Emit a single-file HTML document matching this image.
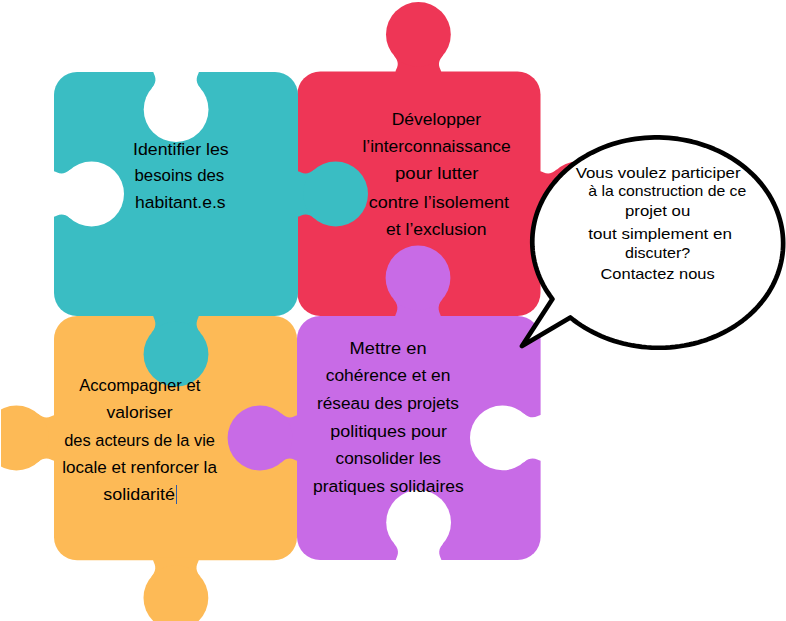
<!DOCTYPE html>
<html><head><meta charset="utf-8"><style>
html,body{margin:0;padding:0;background:#fff;}
svg{display:block;}
text{font-family:"Liberation Sans",sans-serif;fill:#000;}
</style></head><body>
<svg width="786" height="621" viewBox="0 0 786 621">
<rect width="786" height="621" fill="#fff"/>
<rect x="297.3" y="71.5" width="243.20" height="244.50" rx="23" ry="23" fill="#EE3656"/><path d="M395.60 74.50 L395.60 71.50 C396.27 68.47 401.05 63.85 393.91 55.61 L418.40 34.40 L442.89 55.61 C435.75 63.85 440.53 68.47 441.20 71.50 L441.20 74.50 Z" fill="#EE3656"/><circle cx="418.40" cy="34.40" r="32.4" fill="#EE3656"/><path d="M537.50 171.20 L540.50 171.20 C543.53 171.87 548.65 176.65 556.89 169.51 L578.10 194.00 L556.89 218.49 C548.65 211.35 543.53 216.13 540.50 216.80 L537.50 216.80 Z" fill="#EE3656"/><circle cx="578.10" cy="194.00" r="32.4" fill="#EE3656"/><rect x="54" y="316" width="243.00" height="244.30" rx="23" ry="23" fill="#FDBA56"/><path d="M57.00 460.80 L54.00 460.80 C50.97 460.13 45.85 455.35 37.61 462.49 L16.40 438.00 L37.61 413.51 C45.85 420.65 50.97 415.87 54.00 415.20 L57.00 415.20 Z" fill="#FDBA56"/><circle cx="16.40" cy="438.00" r="32.4" fill="#FDBA56"/><path d="M198.70 557.30 L198.70 560.30 C198.03 563.33 193.25 568.45 200.39 576.69 L175.90 597.90 L151.41 576.69 C158.55 568.45 153.77 563.33 153.10 560.30 L153.10 557.30 Z" fill="#FDBA56"/><circle cx="175.90" cy="597.90" r="32.4" fill="#FDBA56"/><rect x="54" y="72" width="244.00" height="244.00" rx="23" ry="23" fill="#3ABDC3"/><path d="M295.00 171.20 L298.00 171.20 C301.03 171.87 306.15 176.65 314.39 169.51 L335.60 194.00 L314.39 218.49 C306.15 211.35 301.03 216.13 298.00 216.80 L295.00 216.80 Z" fill="#3ABDC3"/><circle cx="335.60" cy="194.00" r="32.4" fill="#3ABDC3"/><path d="M198.80 313.00 L198.80 316.00 C198.13 319.03 193.35 324.75 200.49 332.99 L176.00 354.20 L151.51 332.99 C158.65 324.75 153.87 319.03 153.20 316.00 L153.20 313.00 Z" fill="#3ABDC3"/><circle cx="176.00" cy="354.20" r="32.4" fill="#3ABDC3"/><path d="M198.90 68.00 L198.90 72.00 C198.23 75.03 193.45 80.15 200.59 88.39 L176.10 109.60 L151.61 88.39 C158.75 80.15 153.97 75.03 153.30 72.00 L153.30 68.00 Z" fill="#fff"/><circle cx="176.10" cy="109.60" r="32.4" fill="#fff"/><path d="M50.00 171.20 L54.00 171.20 C57.03 171.87 62.15 176.65 70.39 169.51 L91.60 194.00 L70.39 218.49 C62.15 211.35 57.03 216.13 54.00 216.80 L50.00 216.80 Z" fill="#fff"/><circle cx="91.60" cy="194.00" r="32.4" fill="#fff"/><rect x="297" y="316" width="243.60" height="244.00" rx="23" ry="23" fill="#C86BE6"/><path d="M395.20 319.00 L395.20 316.00 C395.87 312.97 400.65 307.35 393.51 299.11 L418.00 277.90 L442.49 299.11 C435.35 307.35 440.13 312.97 440.80 316.00 L440.80 319.00 Z" fill="#C86BE6"/><circle cx="418.00" cy="277.90" r="32.4" fill="#C86BE6"/><path d="M300.00 460.80 L297.00 460.80 C293.97 460.13 289.45 455.35 281.21 462.49 L260.00 438.00 L281.21 413.51 C289.45 420.65 293.97 415.87 297.00 415.20 L300.00 415.20 Z" fill="#C86BE6"/><circle cx="260.00" cy="438.00" r="32.4" fill="#C86BE6"/><path d="M544.60 460.70 L540.60 460.70 C537.57 460.03 531.85 455.25 523.61 462.39 L502.40 437.90 L523.61 413.41 C531.85 420.55 537.57 415.77 540.60 415.10 L544.60 415.10 Z" fill="#fff"/><circle cx="502.40" cy="437.90" r="32.4" fill="#fff"/><path d="M395.80 564.00 L395.80 560.00 C396.47 556.97 401.25 551.85 394.11 543.61 L418.60 522.40 L443.09 543.61 C435.95 551.85 440.73 556.97 441.40 560.00 L441.40 564.00 Z" fill="#fff"/><circle cx="418.60" cy="522.40" r="32.4" fill="#fff"/>
<path d="M522 346 L570.37 317.48 L573.84 320.23 L577.43 322.86 L581.14 325.37 L584.95 327.77 L588.87 330.04 L592.89 332.19 L597.00 334.21 L601.20 336.10 L605.48 337.85 L609.84 339.47 L614.26 340.95 L618.75 342.29 L623.29 343.49 L627.88 344.54 L632.51 345.44 L637.18 346.20 L641.88 346.81 L646.60 347.27 L651.34 347.58 L656.09 347.74 L660.84 347.75 L665.58 347.60 L670.31 347.31 L675.03 346.87 L679.72 346.28 L684.38 345.54 L689.00 344.65 L693.58 343.61 L698.10 342.43 L702.57 341.11 L706.97 339.65 L711.30 338.04 L715.56 336.30 L719.73 334.43 L723.81 332.42 L727.80 330.29 L731.69 328.03 L735.47 325.65 L739.14 323.14 L742.69 320.53 L746.13 317.80 L749.43 314.96 L752.60 312.02 L755.64 308.98 L758.54 305.85 L761.29 302.62 L763.90 299.31 L766.35 295.91 L768.65 292.44 L770.78 288.90 L772.76 285.30 L774.57 281.63 L776.21 277.90 L777.69 274.13 L778.99 270.31 L780.12 266.45 L781.07 262.55 L781.84 258.63 L782.44 254.68 L782.86 250.72 L783.10 246.74 L783.16 242.76 L783.04 238.78 L782.74 234.81 L782.26 230.84 L781.60 226.89 L780.77 222.97 L779.75 219.07 L778.57 215.21 L777.21 211.38 L775.68 207.60 L773.98 203.87 L772.11 200.20 L770.08 196.59 L767.89 193.04 L765.54 189.56 L763.04 186.16 L760.38 182.84 L757.58 179.61 L754.63 176.46 L751.55 173.42 L748.33 170.47 L744.98 167.62 L741.51 164.88 L737.92 162.25 L734.21 159.74 L730.39 157.35 L726.47 155.07 L722.45 152.93 L718.33 150.91 L714.13 149.02 L709.85 147.27 L705.49 145.66 L701.07 144.18 L696.58 142.84 L692.04 141.65 L687.45 140.60 L682.81 139.70 L678.14 138.95 L673.44 138.34 L668.72 137.88 L663.98 137.58 L659.24 137.42 L654.49 137.41 L649.74 137.56 L645.01 137.86 L640.29 138.30 L635.60 138.90 L630.95 139.64 L626.33 140.53 L621.75 141.57 L617.23 142.75 L612.76 144.08 L608.36 145.54 L604.03 147.15 L599.78 148.89 L595.61 150.77 L591.53 152.78 L587.54 154.92 L583.65 157.18 L579.88 159.56 L576.21 162.07 L572.66 164.69 L569.23 167.42 L565.92 170.26 L562.75 173.20 L559.72 176.24 L556.82 179.38 L554.07 182.61 L551.47 185.92 L549.02 189.31 L546.73 192.79 L544.59 196.33 L542.62 199.94 L540.82 203.61 L539.18 207.33 L537.71 211.11 L536.41 214.93 L535.28 218.79 L534.34 222.69 L533.56 226.61 L532.97 230.56 L532.55 234.52 L532.32 238.50 L532.26 242.48 L532.39 246.46 L532.69 250.43 L533.17 254.40 L533.83 258.35 L534.67 262.27 L535.69 266.17 L536.88 270.03 L538.24 273.85 L539.77 277.63 L541.48 281.36 L543.35 285.03 L545.38 288.65 L547.58 292.19 L549.93 295.67 L552.44 299.07 Z" fill="#fff" stroke="#000" stroke-width="4.7" stroke-linejoin="round"/>
<text x="133.0" y="154.8" font-size="16.3" textLength="95.7" lengthAdjust="spacingAndGlyphs">Identifier les</text><text x="134.5" y="181.3" font-size="16.3" textLength="89.8" lengthAdjust="spacingAndGlyphs">besoins des</text><text x="135.0" y="208.0" font-size="16.3" textLength="90.6" lengthAdjust="spacingAndGlyphs">habitant.e.s</text><text x="391.7" y="124.8" font-size="16.3" textLength="89.5" lengthAdjust="spacingAndGlyphs">Développer</text><text x="362.4" y="151.7" font-size="16.3" textLength="148.4" lengthAdjust="spacingAndGlyphs">l’interconnaissance</text><text x="395.0" y="179.4" font-size="16.3" textLength="83.5" lengthAdjust="spacingAndGlyphs">pour lutter</text><text x="368.7" y="207.6" font-size="16.3" textLength="140.3" lengthAdjust="spacingAndGlyphs">contre l’isolement</text><text x="386.0" y="234.6" font-size="16.3" textLength="100.4" lengthAdjust="spacingAndGlyphs">et l’exclusion</text><text x="79.2" y="390.9" font-size="16.3" textLength="121.2" lengthAdjust="spacingAndGlyphs">Accompagner et</text><text x="106.5" y="417.7" font-size="16.3" textLength="66.2" lengthAdjust="spacingAndGlyphs">valoriser</text><text x="64.2" y="445.9" font-size="16.3" textLength="150.8" lengthAdjust="spacingAndGlyphs">des acteurs de la vie</text><text x="62.2" y="472.5" font-size="16.3" textLength="154.7" lengthAdjust="spacingAndGlyphs">locale et renforcer la</text><text x="103.3" y="499.7" font-size="16.3" textLength="71.7" lengthAdjust="spacingAndGlyphs">solidarité</text><text x="349.6" y="353.6" font-size="16.3" textLength="77.0" lengthAdjust="spacingAndGlyphs">Mettre en</text><text x="325.7" y="381.0" font-size="16.3" textLength="124.8" lengthAdjust="spacingAndGlyphs">cohérence et en</text><text x="317.0" y="408.8" font-size="16.3" textLength="142.0" lengthAdjust="spacingAndGlyphs">réseau des projets</text><text x="330.2" y="437.3" font-size="16.3" textLength="116.8" lengthAdjust="spacingAndGlyphs">politiques pour</text><text x="335.5" y="463.8" font-size="16.3" textLength="105.5" lengthAdjust="spacingAndGlyphs">consolider les</text><text x="313.0" y="491.7" font-size="16.3" textLength="150.8" lengthAdjust="spacingAndGlyphs">pratiques solidaires</text>
<text x="575.7" y="177.5" font-size="15" textLength="164.9" lengthAdjust="spacingAndGlyphs">Vous voulez participer</text><text x="588.3" y="196.2" font-size="15" textLength="158.0" lengthAdjust="spacingAndGlyphs">à la construction de ce</text><text x="625.0" y="216.4" font-size="15" textLength="65.2" lengthAdjust="spacingAndGlyphs">projet ou</text><text x="588.3" y="238.6" font-size="15" textLength="143.7" lengthAdjust="spacingAndGlyphs">tout simplement en</text><text x="625.0" y="257.6" font-size="15" textLength="65.2" lengthAdjust="spacingAndGlyphs">discuter?</text><text x="600.5" y="279.4" font-size="15" textLength="114.2" lengthAdjust="spacingAndGlyphs">Contactez nous</text>
<rect x="176" y="485" width="1" height="19" fill="#2F5AA6"/>
<rect x="0" y="0" width="1" height="621" fill="#fff"/>
</svg>
</body></html>
